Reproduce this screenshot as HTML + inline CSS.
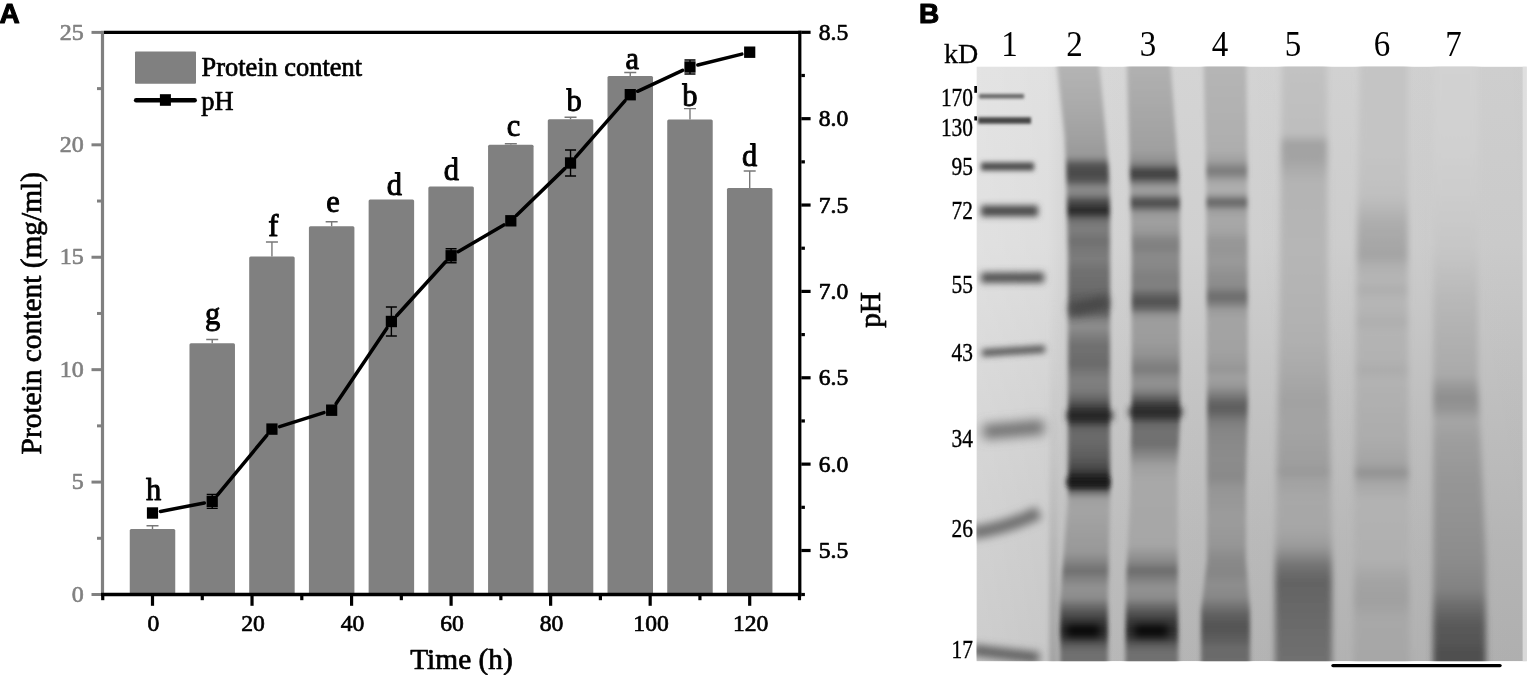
<!DOCTYPE html>
<html lang="en">
<head>
<meta charset="utf-8">
<title>Figure: protein content, pH and SDS-PAGE</title>
<style>
html,body{margin:0;padding:0;background:#fff;}
body{width:1535px;height:675px;overflow:hidden;position:relative;font-family:"Liberation Serif","DejaVu Serif",serif;}
svg text{white-space:pre;}
</style>
</head>
<body>
<svg width="1535" height="675" viewBox="0 0 1535 675" style="display:block;position:absolute;left:0;top:0">
<defs>
<clipPath id="gelclip"><rect x="976.5" y="66.6" width="550.3" height="594.7"/></clipPath>
</defs>
<rect width="1535" height="675" fill="#fff"/>
<g id="chart" font-family="'Liberation Serif', 'DejaVu Serif', serif" stroke-linejoin="round">
<rect x="129.75" y="529.00" width="45.5" height="65.50" fill="#808080" rx="1.5"/>
<path d="M152.50 529.00V525.70M146.50 525.70H158.50" stroke="#787878" stroke-width="1.4" fill="none"/>
<rect x="189.47" y="343.20" width="45.5" height="251.30" fill="#808080" rx="1.5"/>
<path d="M212.22 343.20V339.50M206.22 339.50H218.22" stroke="#787878" stroke-width="1.4" fill="none"/>
<rect x="249.19" y="256.60" width="45.5" height="337.90" fill="#808080" rx="1.5"/>
<path d="M271.94 256.60V242.00M265.94 242.00H277.94" stroke="#787878" stroke-width="1.4" fill="none"/>
<rect x="308.91" y="226.30" width="45.5" height="368.20" fill="#808080" rx="1.5"/>
<path d="M331.66 226.30V221.80M325.66 221.80H337.66" stroke="#787878" stroke-width="1.4" fill="none"/>
<rect x="368.63" y="199.60" width="45.5" height="394.90" fill="#808080" rx="1.5"/>
<rect x="428.35" y="186.40" width="45.5" height="408.10" fill="#808080" rx="1.5"/>
<rect x="488.07" y="144.80" width="45.5" height="449.70" fill="#808080" rx="1.5"/>
<path d="M510.82 144.80V143.80M504.82 143.80H516.82" stroke="#787878" stroke-width="1.4" fill="none"/>
<rect x="547.79" y="119.20" width="45.5" height="475.30" fill="#808080" rx="1.5"/>
<path d="M570.54 119.20V117.30M564.54 117.30H576.54" stroke="#787878" stroke-width="1.4" fill="none"/>
<rect x="607.51" y="76.00" width="45.5" height="518.50" fill="#808080" rx="1.5"/>
<path d="M630.26 76.00V72.50M624.26 72.50H636.26" stroke="#787878" stroke-width="1.4" fill="none"/>
<rect x="667.23" y="119.50" width="45.5" height="475.00" fill="#808080" rx="1.5"/>
<path d="M689.98 119.50V108.60M683.98 108.60H695.98" stroke="#787878" stroke-width="1.4" fill="none"/>
<rect x="726.95" y="188.00" width="45.5" height="406.50" fill="#808080" rx="1.5"/>
<path d="M749.70 188.00V171.00M743.70 171.00H755.70" stroke="#787878" stroke-width="1.4" fill="none"/>
<path d="M102.5 30.799999999999997V596.2" stroke="#808080" stroke-width="3.2" fill="none"/>
<path d="M91.50 594.50H101.00" stroke="#808080" stroke-width="3" fill="none"/>
<text x="83.70" y="601.70" font-size="24" fill="#808080" stroke="#808080" stroke-width="0.65" text-anchor="end">0</text>
<path d="M97.00 538.29H101.00" stroke="#808080" stroke-width="3" fill="none"/>
<path d="M91.50 482.08H101.00" stroke="#808080" stroke-width="3" fill="none"/>
<text x="83.70" y="489.28" font-size="24" fill="#808080" stroke="#808080" stroke-width="0.65" text-anchor="end">5</text>
<path d="M97.00 425.87H101.00" stroke="#808080" stroke-width="3" fill="none"/>
<path d="M91.50 369.66H101.00" stroke="#808080" stroke-width="3" fill="none"/>
<text x="83.70" y="376.86" font-size="24" fill="#808080" stroke="#808080" stroke-width="0.65" text-anchor="end">10</text>
<path d="M97.00 313.45H101.00" stroke="#808080" stroke-width="3" fill="none"/>
<path d="M91.50 257.24H101.00" stroke="#808080" stroke-width="3" fill="none"/>
<text x="83.70" y="264.44" font-size="24" fill="#808080" stroke="#808080" stroke-width="0.65" text-anchor="end">15</text>
<path d="M97.00 201.03H101.00" stroke="#808080" stroke-width="3" fill="none"/>
<path d="M91.50 144.82H101.00" stroke="#808080" stroke-width="3" fill="none"/>
<text x="83.70" y="152.02" font-size="24" fill="#808080" stroke="#808080" stroke-width="0.65" text-anchor="end">20</text>
<path d="M97.00 88.61H101.00" stroke="#808080" stroke-width="3" fill="none"/>
<path d="M91.50 32.40H101.00" stroke="#808080" stroke-width="3" fill="none"/>
<text x="83.70" y="39.60" font-size="24" fill="#808080" stroke="#808080" stroke-width="0.65" text-anchor="end">25</text>
<path d="M104.0 32.4H801.4" stroke="#000" stroke-width="3.4" fill="none"/>
<path d="M101.0 594.5H801.4" stroke="#000" stroke-width="3.4" fill="none"/>
<path d="M102.73 595.5V600.20" stroke="#000" stroke-width="3.2" fill="none"/>
<path d="M152.50 595.5V605.80" stroke="#000" stroke-width="3.2" fill="none"/>
<text x="153.40" y="630.9" font-size="23.6" fill="#000" stroke="#000" stroke-width="0.7" text-anchor="middle">0</text>
<path d="M202.27 595.5V600.20" stroke="#000" stroke-width="3.2" fill="none"/>
<path d="M252.03 595.5V605.80" stroke="#000" stroke-width="3.2" fill="none"/>
<text x="252.93" y="630.9" font-size="23.6" fill="#000" stroke="#000" stroke-width="0.7" text-anchor="middle">20</text>
<path d="M301.80 595.5V600.20" stroke="#000" stroke-width="3.2" fill="none"/>
<path d="M351.57 595.5V605.80" stroke="#000" stroke-width="3.2" fill="none"/>
<text x="352.47" y="630.9" font-size="23.6" fill="#000" stroke="#000" stroke-width="0.7" text-anchor="middle">40</text>
<path d="M401.33 595.5V600.20" stroke="#000" stroke-width="3.2" fill="none"/>
<path d="M451.10 595.5V605.80" stroke="#000" stroke-width="3.2" fill="none"/>
<text x="452.00" y="630.9" font-size="23.6" fill="#000" stroke="#000" stroke-width="0.7" text-anchor="middle">60</text>
<path d="M500.87 595.5V600.20" stroke="#000" stroke-width="3.2" fill="none"/>
<path d="M550.63 595.5V605.80" stroke="#000" stroke-width="3.2" fill="none"/>
<text x="551.53" y="630.9" font-size="23.6" fill="#000" stroke="#000" stroke-width="0.7" text-anchor="middle">80</text>
<path d="M600.40 595.5V600.20" stroke="#000" stroke-width="3.2" fill="none"/>
<path d="M650.17 595.5V605.80" stroke="#000" stroke-width="3.2" fill="none"/>
<text x="651.07" y="630.9" font-size="23.6" fill="#000" stroke="#000" stroke-width="0.7" text-anchor="middle">100</text>
<path d="M699.93 595.5V600.20" stroke="#000" stroke-width="3.2" fill="none"/>
<path d="M749.70 595.5V605.80" stroke="#000" stroke-width="3.2" fill="none"/>
<text x="750.60" y="630.9" font-size="23.6" fill="#000" stroke="#000" stroke-width="0.7" text-anchor="middle">120</text>
<path d="M799.47 595.5V600.20" stroke="#000" stroke-width="3.2" fill="none"/>
<path d="M799.8 30.7V596.2" stroke="#000" stroke-width="3.2" fill="none"/>
<path d="M801.30 594.50H804.90" stroke="#000" stroke-width="3.2" fill="none"/>
<path d="M801.30 550.50H810.60" stroke="#000" stroke-width="3.2" fill="none"/>
<text x="818.80" y="558.10" font-size="23.6" fill="#000" stroke="#000" stroke-width="0.7">5.5</text>
<path d="M801.30 507.32H804.90" stroke="#000" stroke-width="3.2" fill="none"/>
<path d="M801.30 464.13H810.60" stroke="#000" stroke-width="3.2" fill="none"/>
<text x="818.80" y="471.74" font-size="23.6" fill="#000" stroke="#000" stroke-width="0.7">6.0</text>
<path d="M801.30 420.95H804.90" stroke="#000" stroke-width="3.2" fill="none"/>
<path d="M801.30 377.77H810.60" stroke="#000" stroke-width="3.2" fill="none"/>
<text x="818.80" y="385.37" font-size="23.6" fill="#000" stroke="#000" stroke-width="0.7">6.5</text>
<path d="M801.30 334.59H804.90" stroke="#000" stroke-width="3.2" fill="none"/>
<path d="M801.30 291.41H810.60" stroke="#000" stroke-width="3.2" fill="none"/>
<text x="818.80" y="299.01" font-size="23.6" fill="#000" stroke="#000" stroke-width="0.7">7.0</text>
<path d="M801.30 248.22H804.90" stroke="#000" stroke-width="3.2" fill="none"/>
<path d="M801.30 205.04H810.60" stroke="#000" stroke-width="3.2" fill="none"/>
<text x="818.80" y="212.64" font-size="23.6" fill="#000" stroke="#000" stroke-width="0.7">7.5</text>
<path d="M801.30 161.86H804.90" stroke="#000" stroke-width="3.2" fill="none"/>
<path d="M801.30 118.68H810.60" stroke="#000" stroke-width="3.2" fill="none"/>
<text x="818.80" y="126.28" font-size="23.6" fill="#000" stroke="#000" stroke-width="0.7">8.0</text>
<path d="M801.30 75.49H804.90" stroke="#000" stroke-width="3.2" fill="none"/>
<path d="M801.30 32.31H810.60" stroke="#000" stroke-width="3.2" fill="none"/>
<text x="818.80" y="39.91" font-size="23.6" fill="#000" stroke="#000" stroke-width="0.7">8.5</text>
<path d="M212.22 494.40V508.40M206.72 494.40H217.72M206.72 508.40H217.72" stroke="#000" stroke-width="1.4" fill="none"/>
<path d="M391.38 307.00V336.00M385.88 307.00H396.88M385.88 336.00H396.88" stroke="#000" stroke-width="1.4" fill="none"/>
<path d="M451.10 248.80V262.80M445.60 248.80H456.60M445.60 262.80H456.60" stroke="#000" stroke-width="1.4" fill="none"/>
<path d="M570.54 150.00V176.00M565.04 150.00H576.04M565.04 176.00H576.04" stroke="#000" stroke-width="1.4" fill="none"/>
<path d="M689.98 60.00V74.00M684.48 60.00H695.48M684.48 74.00H695.48" stroke="#000" stroke-width="1.4" fill="none"/>
<path d="M160.45 511.46L204.27 502.94M217.38 495.15L266.78 435.35M279.66 426.66L323.94 412.64M336.18 403.48L386.86 328.22M396.83 315.51L445.65 261.79M458.09 251.70L503.83 224.90M516.64 215.17L564.72 168.63M575.87 156.90L624.93 100.80M637.61 91.29L682.63 70.41M697.84 65.05L741.84 54.15" stroke="#000" stroke-width="3.5" fill="none" stroke-linecap="round"/>
<rect x="146.90" y="507.30" width="11.2" height="11.4" fill="#000"/>
<rect x="206.62" y="495.70" width="11.2" height="11.4" fill="#000"/>
<rect x="266.34" y="423.40" width="11.2" height="11.4" fill="#000"/>
<rect x="326.06" y="404.50" width="11.2" height="11.4" fill="#000"/>
<rect x="385.78" y="315.80" width="11.2" height="11.4" fill="#000"/>
<rect x="445.50" y="250.10" width="11.2" height="11.4" fill="#000"/>
<rect x="505.22" y="215.10" width="11.2" height="11.4" fill="#000"/>
<rect x="564.94" y="157.30" width="11.2" height="11.4" fill="#000"/>
<rect x="624.66" y="89.00" width="11.2" height="11.4" fill="#000"/>
<rect x="684.38" y="61.30" width="11.2" height="11.4" fill="#000"/>
<rect x="744.10" y="46.50" width="11.2" height="11.4" fill="#000"/>
<text x="153.50" y="500.4" font-size="30.5" fill="#000" stroke="#000" stroke-width="0.9" text-anchor="middle">h</text>
<text x="212.72" y="323.5" font-size="30.5" fill="#000" stroke="#000" stroke-width="0.9" text-anchor="middle">g</text>
<text x="273.44" y="236" font-size="30.5" fill="#000" stroke="#000" stroke-width="0.9" text-anchor="middle">f</text>
<text x="332.96" y="211.5" font-size="30.5" fill="#000" stroke="#000" stroke-width="0.9" text-anchor="middle">e</text>
<text x="394.48" y="194.5" font-size="30.5" fill="#000" stroke="#000" stroke-width="0.9" text-anchor="middle">d</text>
<text x="451.30" y="179.7" font-size="30.5" fill="#000" stroke="#000" stroke-width="0.9" text-anchor="middle">d</text>
<text x="513.42" y="135.8" font-size="30.5" fill="#000" stroke="#000" stroke-width="0.9" text-anchor="middle">c</text>
<text x="574.14" y="111.3" font-size="30.5" fill="#000" stroke="#000" stroke-width="0.9" text-anchor="middle">b</text>
<text x="632.26" y="68.7" font-size="30.5" fill="#000" stroke="#000" stroke-width="0.9" text-anchor="middle">a</text>
<text x="689.98" y="105.9" font-size="30.5" fill="#000" stroke="#000" stroke-width="0.9" text-anchor="middle">b</text>
<text x="749.70" y="165.6" font-size="30.5" fill="#000" stroke="#000" stroke-width="0.9" text-anchor="middle">d</text>
<rect x="135" y="51.5" width="61" height="32.3" fill="#808080" rx="1"/>
<text x="201.5" y="76.4" font-size="26.4" fill="#000" stroke="#000" stroke-width="0.7">Protein content</text>
<path d="M136.1 100.25H194.7" stroke="#000" stroke-width="4.4" stroke-linecap="round"/>
<rect x="159.9" y="94.2" width="11" height="11.6" fill="#000"/>
<text x="201.3" y="109.6" font-size="26.4" fill="#000" stroke="#000" stroke-width="0.7">pH</text>
<text transform="translate(41.1 313.2) rotate(-90)" font-size="29.4" fill="#000" stroke="#000" stroke-width="0.7" text-anchor="middle">Protein content (mg/ml)</text>
<text transform="translate(880.4 309.9) rotate(-90)" font-size="29.4" fill="#000" stroke="#000" stroke-width="0.7" text-anchor="middle">pH</text>
<text x="461.5" y="668.8" font-size="29.4" fill="#000" stroke="#000" stroke-width="0.7" text-anchor="middle">Time (h)</text>
</g>
<g font-family="'Liberation Sans', 'DejaVu Sans', sans-serif" font-weight="bold" fill="#000" stroke="#000" stroke-width="1.1" stroke-linejoin="round">
<text x="-0.5" y="23.3" font-size="28">A</text>
<text x="919" y="23.3" font-size="28">B</text>
</g>
<defs><linearGradient id="gbg" gradientUnits="userSpaceOnUse" x1="0" y1="66" x2="0" y2="662"><stop offset="0" stop-color="#d8d8d8"/><stop offset="0.3" stop-color="#d4d4d4"/><stop offset="0.55" stop-color="#c8c8c8"/><stop offset="0.8" stop-color="#bebebe"/><stop offset="1" stop-color="#b8b8b8"/></linearGradient><linearGradient id="gbg2" gradientUnits="userSpaceOnUse" x1="976" y1="0" x2="1527" y2="0"><stop offset="0" stop-color="#fff" stop-opacity="0.30"/><stop offset="0.13" stop-color="#fff" stop-opacity="0.22"/><stop offset="0.16" stop-color="#fff" stop-opacity="0.03"/><stop offset="0.4" stop-color="#000" stop-opacity="0.02"/><stop offset="1" stop-color="#000" stop-opacity="0.05"/></linearGradient><linearGradient id="lg1" gradientUnits="userSpaceOnUse" x1="0" y1="300" x2="0" y2="670"><stop offset="0.0000" stop-color="#c8c8c8" stop-opacity="0"/><stop offset="0.4324" stop-color="#b4b4b4" stop-opacity="0.3"/><stop offset="0.7027" stop-color="#a8a8a8" stop-opacity="0.6"/><stop offset="1.0000" stop-color="#989898" stop-opacity="0.75"/></linearGradient><linearGradient id="lg2" gradientUnits="userSpaceOnUse" x1="0" y1="60" x2="0" y2="670"><stop offset="0.0000" stop-color="#b6b6b6"/><stop offset="0.0656" stop-color="#acacac"/><stop offset="0.1311" stop-color="#a0a0a0"/><stop offset="0.1574" stop-color="#989898"/><stop offset="0.1656" stop-color="#747474"/><stop offset="0.1738" stop-color="#505050"/><stop offset="0.1885" stop-color="#4a4a4a"/><stop offset="0.1984" stop-color="#585858"/><stop offset="0.2066" stop-color="#808080"/><stop offset="0.2131" stop-color="#8c8c8c"/><stop offset="0.2213" stop-color="#808080"/><stop offset="0.2279" stop-color="#5c5c5c"/><stop offset="0.2377" stop-color="#404040"/><stop offset="0.2475" stop-color="#262626"/><stop offset="0.2541" stop-color="#404040"/><stop offset="0.2607" stop-color="#686868"/><stop offset="0.2705" stop-color="#7c7c7c"/><stop offset="0.2820" stop-color="#7c7c7c"/><stop offset="0.2967" stop-color="#707070"/><stop offset="0.3115" stop-color="#787878"/><stop offset="0.3279" stop-color="#7c7c7c"/><stop offset="0.3475" stop-color="#707070"/><stop offset="0.3738" stop-color="#6c6c6c"/><stop offset="0.3869" stop-color="#626262"/><stop offset="0.4033" stop-color="#585858"/><stop offset="0.4164" stop-color="#646464"/><stop offset="0.4262" stop-color="#808080"/><stop offset="0.4377" stop-color="#8e8e8e"/><stop offset="0.4508" stop-color="#808080"/><stop offset="0.4672" stop-color="#707070"/><stop offset="0.4852" stop-color="#6e6e6e"/><stop offset="0.4984" stop-color="#6a6a6a"/><stop offset="0.5115" stop-color="#767676"/><stop offset="0.5246" stop-color="#808080"/><stop offset="0.5410" stop-color="#7c7c7c"/><stop offset="0.5541" stop-color="#686868"/><stop offset="0.5656" stop-color="#4c4c4c"/><stop offset="0.5770" stop-color="#303030"/><stop offset="0.5852" stop-color="#262626"/><stop offset="0.5934" stop-color="#3c3c3c"/><stop offset="0.6033" stop-color="#646464"/><stop offset="0.6164" stop-color="#6c6c6c"/><stop offset="0.6344" stop-color="#666666"/><stop offset="0.6525" stop-color="#5c5c5c"/><stop offset="0.6672" stop-color="#4c4c4c"/><stop offset="0.6787" stop-color="#303030"/><stop offset="0.6918" stop-color="#1a1a1a"/><stop offset="0.7016" stop-color="#303030"/><stop offset="0.7098" stop-color="#787878"/><stop offset="0.7197" stop-color="#a0a0a0"/><stop offset="0.7377" stop-color="#a4a4a4"/><stop offset="0.7623" stop-color="#a0a0a0"/><stop offset="0.8066" stop-color="#989898"/><stop offset="0.8230" stop-color="#848484"/><stop offset="0.8377" stop-color="#707070"/><stop offset="0.8508" stop-color="#828282"/><stop offset="0.8656" stop-color="#929292"/><stop offset="0.8820" stop-color="#8c8c8c"/><stop offset="0.8967" stop-color="#686868"/><stop offset="0.9098" stop-color="#4c4c4c"/><stop offset="0.9230" stop-color="#383838"/><stop offset="0.9361" stop-color="#303030"/><stop offset="0.9475" stop-color="#3c3c3c"/><stop offset="0.9590" stop-color="#5c5c5c"/><stop offset="0.9705" stop-color="#707070"/><stop offset="1.0000" stop-color="#727272"/></linearGradient><linearGradient id="lg3" gradientUnits="userSpaceOnUse" x1="0" y1="60" x2="0" y2="670"><stop offset="0.0000" stop-color="#b2b2b2"/><stop offset="0.0656" stop-color="#aaaaaa"/><stop offset="0.1475" stop-color="#a0a0a0"/><stop offset="0.1639" stop-color="#929292"/><stop offset="0.1721" stop-color="#7c7c7c"/><stop offset="0.1787" stop-color="#545454"/><stop offset="0.1869" stop-color="#3e3e3e"/><stop offset="0.1951" stop-color="#545454"/><stop offset="0.2033" stop-color="#888888"/><stop offset="0.2115" stop-color="#a0a0a0"/><stop offset="0.2197" stop-color="#989898"/><stop offset="0.2262" stop-color="#686868"/><stop offset="0.2344" stop-color="#4a4a4a"/><stop offset="0.2426" stop-color="#686868"/><stop offset="0.2508" stop-color="#989898"/><stop offset="0.2656" stop-color="#a0a0a0"/><stop offset="0.2820" stop-color="#989898"/><stop offset="0.2951" stop-color="#848484"/><stop offset="0.3082" stop-color="#808080"/><stop offset="0.3213" stop-color="#8a8a8a"/><stop offset="0.3377" stop-color="#888888"/><stop offset="0.3541" stop-color="#808080"/><stop offset="0.3738" stop-color="#808080"/><stop offset="0.3852" stop-color="#646464"/><stop offset="0.3967" stop-color="#505050"/><stop offset="0.4082" stop-color="#686868"/><stop offset="0.4180" stop-color="#949494"/><stop offset="0.4295" stop-color="#9e9e9e"/><stop offset="0.4590" stop-color="#9c9c9c"/><stop offset="0.4836" stop-color="#929292"/><stop offset="0.4967" stop-color="#848484"/><stop offset="0.5082" stop-color="#7c7c7c"/><stop offset="0.5197" stop-color="#8c8c8c"/><stop offset="0.5328" stop-color="#929292"/><stop offset="0.5443" stop-color="#808080"/><stop offset="0.5541" stop-color="#606060"/><stop offset="0.5656" stop-color="#404040"/><stop offset="0.5770" stop-color="#2c2c2c"/><stop offset="0.5869" stop-color="#444444"/><stop offset="0.5967" stop-color="#686868"/><stop offset="0.6098" stop-color="#727272"/><stop offset="0.6295" stop-color="#707070"/><stop offset="0.6475" stop-color="#888888"/><stop offset="0.6656" stop-color="#a0a0a0"/><stop offset="0.6885" stop-color="#a8a8a8"/><stop offset="0.7213" stop-color="#a8a8a8"/><stop offset="0.7951" stop-color="#a6a6a6"/><stop offset="0.8197" stop-color="#8c8c8c"/><stop offset="0.8377" stop-color="#6c6c6c"/><stop offset="0.8525" stop-color="#828282"/><stop offset="0.8656" stop-color="#929292"/><stop offset="0.8820" stop-color="#8c8c8c"/><stop offset="0.8967" stop-color="#686868"/><stop offset="0.9098" stop-color="#4c4c4c"/><stop offset="0.9230" stop-color="#383838"/><stop offset="0.9361" stop-color="#303030"/><stop offset="0.9475" stop-color="#3c3c3c"/><stop offset="0.9590" stop-color="#5c5c5c"/><stop offset="0.9705" stop-color="#707070"/><stop offset="1.0000" stop-color="#727272"/></linearGradient><linearGradient id="lg4" gradientUnits="userSpaceOnUse" x1="0" y1="60" x2="0" y2="670"><stop offset="0.0000" stop-color="#b6b6b6"/><stop offset="0.1475" stop-color="#aeaeae"/><stop offset="0.1639" stop-color="#a2a2a2"/><stop offset="0.1738" stop-color="#8c8c8c"/><stop offset="0.1820" stop-color="#7a7a7a"/><stop offset="0.1902" stop-color="#8c8c8c"/><stop offset="0.2000" stop-color="#a8a8a8"/><stop offset="0.2131" stop-color="#b0b0b0"/><stop offset="0.2213" stop-color="#a0a0a0"/><stop offset="0.2279" stop-color="#787878"/><stop offset="0.2328" stop-color="#666666"/><stop offset="0.2393" stop-color="#787878"/><stop offset="0.2475" stop-color="#a0a0a0"/><stop offset="0.2623" stop-color="#a8a8a8"/><stop offset="0.2820" stop-color="#a4a4a4"/><stop offset="0.2951" stop-color="#989898"/><stop offset="0.3115" stop-color="#969696"/><stop offset="0.3311" stop-color="#9a9a9a"/><stop offset="0.3525" stop-color="#909090"/><stop offset="0.3705" stop-color="#8c8c8c"/><stop offset="0.3803" stop-color="#787878"/><stop offset="0.3885" stop-color="#6c6c6c"/><stop offset="0.3984" stop-color="#7c7c7c"/><stop offset="0.4098" stop-color="#9c9c9c"/><stop offset="0.4262" stop-color="#a4a4a4"/><stop offset="0.4754" stop-color="#a2a2a2"/><stop offset="0.4951" stop-color="#9c9c9c"/><stop offset="0.5066" stop-color="#969696"/><stop offset="0.5213" stop-color="#a0a0a0"/><stop offset="0.5344" stop-color="#989898"/><stop offset="0.5475" stop-color="#808080"/><stop offset="0.5590" stop-color="#686868"/><stop offset="0.5705" stop-color="#5e5e5e"/><stop offset="0.5803" stop-color="#686868"/><stop offset="0.5918" stop-color="#7c7c7c"/><stop offset="0.6066" stop-color="#868686"/><stop offset="0.6311" stop-color="#8a8a8a"/><stop offset="0.6557" stop-color="#8c8c8c"/><stop offset="0.6836" stop-color="#8a8a8a"/><stop offset="0.7049" stop-color="#969696"/><stop offset="0.7541" stop-color="#9c9c9c"/><stop offset="0.7951" stop-color="#969696"/><stop offset="0.8180" stop-color="#8a8a8a"/><stop offset="0.8410" stop-color="#868686"/><stop offset="0.8607" stop-color="#8e8e8e"/><stop offset="0.8803" stop-color="#888888"/><stop offset="0.8951" stop-color="#747474"/><stop offset="0.9098" stop-color="#606060"/><stop offset="0.9295" stop-color="#545454"/><stop offset="0.9475" stop-color="#5c5c5c"/><stop offset="0.9639" stop-color="#6a6a6a"/><stop offset="1.0000" stop-color="#6e6e6e"/></linearGradient><linearGradient id="lg5" gradientUnits="userSpaceOnUse" x1="0" y1="60" x2="0" y2="670"><stop offset="0.0000" stop-color="#c2c2c2"/><stop offset="0.1213" stop-color="#bebebe"/><stop offset="0.1295" stop-color="#aeaeae"/><stop offset="0.1377" stop-color="#a2a2a2"/><stop offset="0.1639" stop-color="#a4a4a4"/><stop offset="0.1803" stop-color="#acacac"/><stop offset="0.2000" stop-color="#b4b4b4"/><stop offset="0.3115" stop-color="#b6b6b6"/><stop offset="0.3770" stop-color="#b4b4b4"/><stop offset="0.4590" stop-color="#b0b0b0"/><stop offset="0.5082" stop-color="#aaaaaa"/><stop offset="0.5574" stop-color="#a2a2a2"/><stop offset="0.5984" stop-color="#a4a4a4"/><stop offset="0.6393" stop-color="#a0a0a0"/><stop offset="0.6639" stop-color="#9e9e9e"/><stop offset="0.6754" stop-color="#989898"/><stop offset="0.6885" stop-color="#a2a2a2"/><stop offset="0.7213" stop-color="#a8a8a8"/><stop offset="0.7705" stop-color="#a6a6a6"/><stop offset="0.7951" stop-color="#9c9c9c"/><stop offset="0.8115" stop-color="#8a8a8a"/><stop offset="0.8279" stop-color="#747474"/><stop offset="0.8525" stop-color="#646464"/><stop offset="0.8852" stop-color="#666666"/><stop offset="0.9344" stop-color="#6c6c6c"/><stop offset="1.0000" stop-color="#707070"/></linearGradient><linearGradient id="lg6" gradientUnits="userSpaceOnUse" x1="0" y1="60" x2="0" y2="670"><stop offset="0.0000" stop-color="#c4c4c4"/><stop offset="0.1475" stop-color="#c4c4c4"/><stop offset="0.2213" stop-color="#c0c0c0"/><stop offset="0.2459" stop-color="#b6b6b6"/><stop offset="0.2705" stop-color="#acacac"/><stop offset="0.2951" stop-color="#a8a8a8"/><stop offset="0.3213" stop-color="#a4a4a4"/><stop offset="0.3377" stop-color="#b0b0b0"/><stop offset="0.3607" stop-color="#b6b6b6"/><stop offset="0.3770" stop-color="#aeaeae"/><stop offset="0.3934" stop-color="#b6b6b6"/><stop offset="0.4131" stop-color="#b4b4b4"/><stop offset="0.4295" stop-color="#aeaeae"/><stop offset="0.4459" stop-color="#b4b4b4"/><stop offset="0.4918" stop-color="#b2b2b2"/><stop offset="0.5082" stop-color="#acacac"/><stop offset="0.5246" stop-color="#b2b2b2"/><stop offset="0.6230" stop-color="#acacac"/><stop offset="0.6623" stop-color="#a4a4a4"/><stop offset="0.6770" stop-color="#909090"/><stop offset="0.6918" stop-color="#a6a6a6"/><stop offset="0.7213" stop-color="#b2b2b2"/><stop offset="0.8197" stop-color="#b0b0b0"/><stop offset="0.8525" stop-color="#a4a4a4"/><stop offset="0.8852" stop-color="#a0a0a0"/><stop offset="0.9180" stop-color="#a8a8a8"/><stop offset="1.0000" stop-color="#a6a6a6"/></linearGradient><linearGradient id="lg7" gradientUnits="userSpaceOnUse" x1="0" y1="60" x2="0" y2="670"><stop offset="0.0000" stop-color="#d2d2d2"/><stop offset="0.1475" stop-color="#d0d0d0"/><stop offset="0.2295" stop-color="#cccccc"/><stop offset="0.3115" stop-color="#c6c6c6"/><stop offset="0.3934" stop-color="#b8b8b8"/><stop offset="0.4590" stop-color="#b0b0b0"/><stop offset="0.5164" stop-color="#aaaaaa"/><stop offset="0.5344" stop-color="#9a9a9a"/><stop offset="0.5541" stop-color="#8e8e8e"/><stop offset="0.5738" stop-color="#969696"/><stop offset="0.5902" stop-color="#a6a6a6"/><stop offset="0.6230" stop-color="#9e9e9e"/><stop offset="0.6885" stop-color="#969696"/><stop offset="0.7541" stop-color="#929292"/><stop offset="0.8197" stop-color="#8c8c8c"/><stop offset="0.8689" stop-color="#828282"/><stop offset="0.8934" stop-color="#6e6e6e"/><stop offset="0.9246" stop-color="#5a5a5a"/><stop offset="0.9508" stop-color="#565656"/><stop offset="0.9754" stop-color="#4e4e4e"/><stop offset="1.0000" stop-color="#525252"/></linearGradient><filter id="f1_4" filterUnits="userSpaceOnUse" x="900" y="0" width="640" height="680"><feGaussianBlur stdDeviation="1.4"/></filter><filter id="f1_7" filterUnits="userSpaceOnUse" x="900" y="0" width="640" height="680"><feGaussianBlur stdDeviation="1.7"/></filter><filter id="f2_8" filterUnits="userSpaceOnUse" x="900" y="0" width="640" height="680"><feGaussianBlur stdDeviation="2.8"/></filter><filter id="f3" filterUnits="userSpaceOnUse" x="900" y="0" width="640" height="680"><feGaussianBlur stdDeviation="3"/></filter><filter id="f3_5" filterUnits="userSpaceOnUse" x="900" y="0" width="640" height="680"><feGaussianBlur stdDeviation="3.5"/></filter><filter id="f3_2" filterUnits="userSpaceOnUse" x="900" y="0" width="640" height="680"><feGaussianBlur stdDeviation="3.2"/></filter><filter id="f6" filterUnits="userSpaceOnUse" x="900" y="0" width="640" height="680"><feGaussianBlur stdDeviation="6"/></filter><filter id="f4_5" filterUnits="userSpaceOnUse" x="900" y="0" width="640" height="680"><feGaussianBlur stdDeviation="4.5"/></filter><filter id="f2" filterUnits="userSpaceOnUse" x="900" y="0" width="640" height="680"><feGaussianBlur stdDeviation="2"/></filter><filter id="f4" filterUnits="userSpaceOnUse" x="900" y="0" width="640" height="680"><feGaussianBlur stdDeviation="4"/></filter><filter id="f2_5" filterUnits="userSpaceOnUse" x="900" y="0" width="640" height="680"><feGaussianBlur stdDeviation="2.5"/></filter></defs>
<g id="gel" clip-path="url(#gelclip)">
<rect x="976.5" y="66.6" width="550.3" height="594.6999999999999" fill="url(#gbg)"/>
<rect x="976.5" y="66.6" width="550.3" height="594.6999999999999" fill="url(#gbg2)"/>
<path d="M979 96.3L1024 96.3" stroke="#686868" stroke-width="4.5" fill="none" stroke-linecap="butt" filter="url(#f1_4)"/>
<path d="M978 120.5L1031 120.5" stroke="#444444" stroke-width="6.5" fill="none" stroke-linecap="butt" filter="url(#f1_7)"/>
<path d="M981 166.5L1034 166.5" stroke="#4a4a4a" stroke-width="8" fill="none" stroke-linecap="butt" filter="url(#f2_8)"/>
<path d="M981 211L1038 211" stroke="#4a4a4a" stroke-width="11" fill="none" stroke-linecap="butt" filter="url(#f3)"/>
<path d="M981 277.8L1044 277.4" stroke="#4c4c4c" stroke-width="10" fill="none" stroke-linecap="butt" filter="url(#f3_5)"/>
<path d="M982 353L1045 349" stroke="#505050" stroke-width="7" fill="none" stroke-linecap="butt" filter="url(#f3_2)"/>
<path d="M983 432L1044 427" stroke="#6c6c6c" stroke-width="14" fill="none" stroke-linecap="butt" filter="url(#f6)"/>
<path d="M972 533Q1005.5 528.75 1039 512.5" stroke="#707070" stroke-width="13" fill="none" stroke-linecap="butt" filter="url(#f4_5)"/>
<path d="M972 650L1039 658" stroke="#5c5c5c" stroke-width="11" fill="none" stroke-linecap="butt" filter="url(#f4_5)"/>
<path d="M1049.0 300.0L1058.0 300.0L1058.0 700.0L1049.0 700.0Z" fill="url(#lg1)" filter="url(#f2)"/>
<path d="M1056.5 40.0L1099.0 40.0L1099.5 66.0L1106.0 135.0L1108.5 165.0L1110.0 200.0L1110.0 500.0L1108.0 600.0L1108.0 700.0L1060.0 700.0L1060.0 600.0L1068.0 500.0L1068.0 260.0L1066.0 165.0L1064.5 135.0L1057.0 66.0Z" fill="url(#lg2)" filter="url(#f2)"/>
<path d="M1070 311L1108 301" stroke="#404040" stroke-width="12" fill="none" stroke-linecap="butt" filter="url(#f4)" opacity="0.7"/>
<path d="M1066 415.5L1114 415.5" stroke="#282828" stroke-width="10" fill="none" stroke-linecap="butt" filter="url(#f3)" opacity="0.6"/>
<path d="M1066 482L1110 482" stroke="#181818" stroke-width="9" fill="none" stroke-linecap="butt" filter="url(#f2_5)" opacity="0.6"/>
<path d="M1066 631L1100 631" stroke="#000000" stroke-width="11" fill="none" stroke-linecap="butt" filter="url(#f4_5)" opacity="0.95"/>
<path d="M1126.0 40.0L1170.0 40.0L1171.0 70.0L1177.0 150.0L1180.0 200.0L1180.0 420.0L1177.5 470.0L1178.5 700.0L1125.0 700.0L1126.0 580.0L1130.0 500.0L1131.5 400.0L1131.5 250.0L1129.5 160.0L1127.0 70.0Z" fill="url(#lg3)" filter="url(#f2)"/>
<path d="M1128 412L1183 412" stroke="#2c2c2c" stroke-width="10" fill="none" stroke-linecap="butt" filter="url(#f3)" opacity="0.6"/>
<path d="M1134 631L1168 631" stroke="#000000" stroke-width="11" fill="none" stroke-linecap="butt" filter="url(#f4_5)" opacity="0.92"/>
<path d="M1203.0 40.0L1246.0 40.0L1247.5 165.0L1248.0 400.0L1246.0 480.0L1246.0 560.0L1250.0 610.0L1250.0 700.0L1201.0 700.0L1201.0 610.0L1207.0 560.0L1207.0 400.0L1206.0 165.0Z" fill="url(#lg4)" filter="url(#f2)"/>
<path d="M1282.0 40.0L1327.0 40.0L1328.0 300.0L1332.0 560.0L1332.0 700.0L1275.0 700.0L1275.0 560.0L1279.5 300.0Z" fill="url(#lg5)" filter="url(#f3)"/>
<path d="M1360.0 40.0L1408.0 40.0L1408.0 300.0L1410.0 700.0L1353.0 700.0L1356.0 300.0Z" fill="url(#lg6)" filter="url(#f3)"/>
<path d="M1434.0 40.0L1478.0 40.0L1478.0 380.0L1486.0 560.0L1486.0 700.0L1433.0 700.0L1433.0 380.0Z" fill="url(#lg7)" filter="url(#f3)"/>
</g>
<rect x="1522.6" y="66.6" width="4.2" height="594.6999999999999" fill="#e4e4e4" opacity="0.8"/>
<path d="M1333 665.6H1500" stroke="#000" stroke-width="3.4" stroke-linecap="round"/>
<rect x="974.3" y="86" width="2.7" height="6.8" fill="#000"/><rect x="974.3" y="116.3" width="2.7" height="4.2" fill="#000"/>
<g id="gellabels" font-family="'Liberation Serif', 'DejaVu Serif', serif" fill="#000">
<text transform="translate(1009.5 55.6) scale(1 1.11)" font-size="33" text-anchor="middle">1</text>
<text transform="translate(1074.5 55.6) scale(1 1.11)" font-size="33" text-anchor="middle">2</text>
<text transform="translate(1148 55.6) scale(1 1.11)" font-size="33" text-anchor="middle">3</text>
<text transform="translate(1220 55.6) scale(1 1.11)" font-size="33" text-anchor="middle">4</text>
<text transform="translate(1293 55.6) scale(1 1.11)" font-size="33" text-anchor="middle">5</text>
<text transform="translate(1382 55.6) scale(1 1.11)" font-size="33" text-anchor="middle">6</text>
<text transform="translate(1453.5 55.6) scale(1 1.11)" font-size="33" text-anchor="middle">7</text>
<text x="944" y="62.5" font-size="28" stroke="#000" stroke-width="0.3">kD</text>
<text transform="translate(973 105.8) scale(1 1.15)" font-size="21.4" text-anchor="end" stroke="#000" stroke-width="0.3">170</text>
<text transform="translate(973 135.6) scale(1 1.15)" font-size="21.4" text-anchor="end" stroke="#000" stroke-width="0.3">130</text>
<text transform="translate(973 175) scale(1 1.15)" font-size="21.4" text-anchor="end" stroke="#000" stroke-width="0.3">95</text>
<text transform="translate(973 219) scale(1 1.15)" font-size="21.4" text-anchor="end" stroke="#000" stroke-width="0.3">72</text>
<text transform="translate(973 292.6) scale(1 1.15)" font-size="21.4" text-anchor="end" stroke="#000" stroke-width="0.3">55</text>
<text transform="translate(973 360.5) scale(1 1.15)" font-size="21.4" text-anchor="end" stroke="#000" stroke-width="0.3">43</text>
<text transform="translate(973 446.6) scale(1 1.15)" font-size="21.4" text-anchor="end" stroke="#000" stroke-width="0.3">34</text>
<text transform="translate(973 537.2) scale(1 1.15)" font-size="21.4" text-anchor="end" stroke="#000" stroke-width="0.3">26</text>
<text transform="translate(973 657.6) scale(1 1.15)" font-size="21.4" text-anchor="end" stroke="#000" stroke-width="0.3">17</text>
</g>
</svg>
</body>
</html>
